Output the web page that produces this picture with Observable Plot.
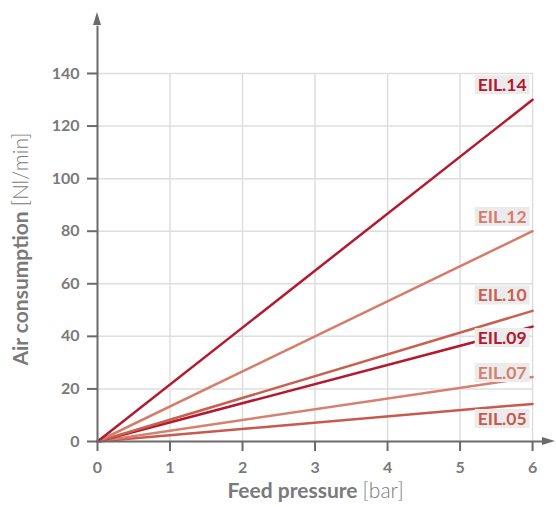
<!DOCTYPE html>
<html><head><meta charset="utf-8">
<script src="https://cdn.jsdelivr.net/npm/d3@7"></script>
<script src="https://cdn.jsdelivr.net/npm/@observablehq/plot@0.6"></script>
<style>body{margin:0;background:#fff} svg{display:block}</style>
</head><body><div id="chart"></div>
<script>
const models = ["EIL.05","EIL.07","EIL.09","EIL.10","EIL.12","EIL.14"];
const pressures = [0, 6];
const flowAt0 = [0, 0, 0, 0, 0, 0];
const flowAt6 = [14.3, 24.5, 43.7, 49.7, 80, 130];
const labelValues = [8.4, 25.9, 39.2, 55.4, 85.3, 135.4];
const colors = ["#c9594d","#d6806f","#b3192f","#c9604f","#d67c6b","#b3192f"];
const xTicks = [0, 1, 2, 3, 4, 5, 6];
const yTicks = [0, 20, 40, 60, 80, 100, 120, 140];
const xTitle = "Feed pressure", xUnit = "[bar]";
const yTitle = "Air consumption", yUnit = "[Nl/min]";

const rows = models.flatMap((m, i) => [
  {model: m, p: pressures[0], flow: flowAt0[i]},
  {model: m, p: pressures[1], flow: flowAt6[i]}
]);
const labels = models.map((m, i) => ({model: m, p: pressures[1], v: labelValues[i]}));
const xMax = xTicks[xTicks.length - 1], yMax = yTicks[yTicks.length - 1];

const axisGray = "#6b6b6b";
const plot = Plot.plot({
  width: 556, height: 507,
  marginLeft: 97, marginRight: 0, marginTop: 12, marginBottom: 66,
  x: {domain: [0, 6.33]},
  y: {domain: [0, 163.2]},
  color: {domain: models, range: colors},
  style: {fontFamily: "Lato, sans-serif", background: "#fff"},
  marks: [
    Plot.ruleY(yTicks.slice(1), {x1: 0, x2: xMax, stroke: "#dedede", strokeWidth: 1.5}),
    Plot.ruleX(xTicks.slice(1), {y1: 0, y2: yMax, stroke: "#dedede", strokeWidth: 1.5}),
    Plot.line(rows, {x: "p", y: "flow", z: "model", stroke: "model", strokeWidth: 2.5}),
    Plot.ruleX([0], {y1: 0, y2: 158, stroke: axisGray, strokeWidth: 2}),
    Plot.ruleY([0], {x1: 0, x2: 6.22, stroke: axisGray, strokeWidth: 2}),
    Plot.axisY({ticks: yTicks, tickFormat: "d", tickSize: 10, tickPadding: 8, fontSize: 16, fontWeight: "bold",
      stroke: axisGray, fill: "#7a7a7a", strokeWidth: 2, label: null}),
    Plot.axisX({ticks: xTicks, tickFormat: "d", tickSize: 10, tickPadding: 10, fontSize: 16, fontWeight: "bold",
      stroke: axisGray, fill: "#7a7a7a", strokeWidth: 2, label: null}),
    Plot.text(labels, {x: "p", y: "v", text: "model", fill: "model", textAnchor: "end", dx: -6,
      fontSize: 17.5, fontWeight: "bold"})
  ]
});
document.getElementById("chart").appendChild(plot);
const svg = d3.select(plot);
const sx = plot.scale("x"), sy = plot.scale("y");

// label backgrounds
svg.selectAll("text").filter(function() { return models.includes(this.textContent); }).each(function() {
  const b = this.getBBox();
  const t = this.getAttribute("transform");
  const r = document.createElementNS("http://www.w3.org/2000/svg", "rect");
  r.setAttribute("x", b.x - 3); r.setAttribute("y", b.y + 1);
  r.setAttribute("width", b.width + 6); r.setAttribute("height", b.height - 2);
  r.setAttribute("fill", "#ebebeb");
  if (t) r.setAttribute("transform", t);
  this.parentNode.insertBefore(r, this);
});

// arrowheads
const ax = sx.apply(0), ay = sy.apply(0);
const topY = sy.apply(163.2), rightX = sx.apply(6.33);
svg.append("path").attr("d", `M${ax},${topY} L${ax - 4},${topY + 13} L${ax + 4},${topY + 13} Z`).attr("fill", axisGray);
svg.append("path").attr("d", `M${rightX - 1},${ay} L${rightX - 14},${ay - 4} L${rightX - 14},${ay + 4} Z`).attr("fill", axisGray);

// axis titles
const xt = svg.append("text").attr("x", (sx.apply(0) + sx.apply(6)) / 2 + 1).attr("y", 498)
  .attr("text-anchor", "middle").attr("font-size", 21).attr("fill", "#7a7a7a");
xt.append("tspan").attr("font-weight", "bold").text(xTitle + " ");
xt.append("tspan").attr("font-weight", 300).text(xUnit);
const yt = svg.append("text").attr("transform", `translate(28,${(sy.apply(0) + sy.apply(140)) / 2 - 8}) rotate(-90)`)
  .attr("text-anchor", "middle").attr("font-size", 21).attr("fill", "#7a7a7a");
yt.append("tspan").attr("font-weight", "bold").text(yTitle + " ");
yt.append("tspan").attr("font-weight", 300).text(yUnit);
</script></body></html>
